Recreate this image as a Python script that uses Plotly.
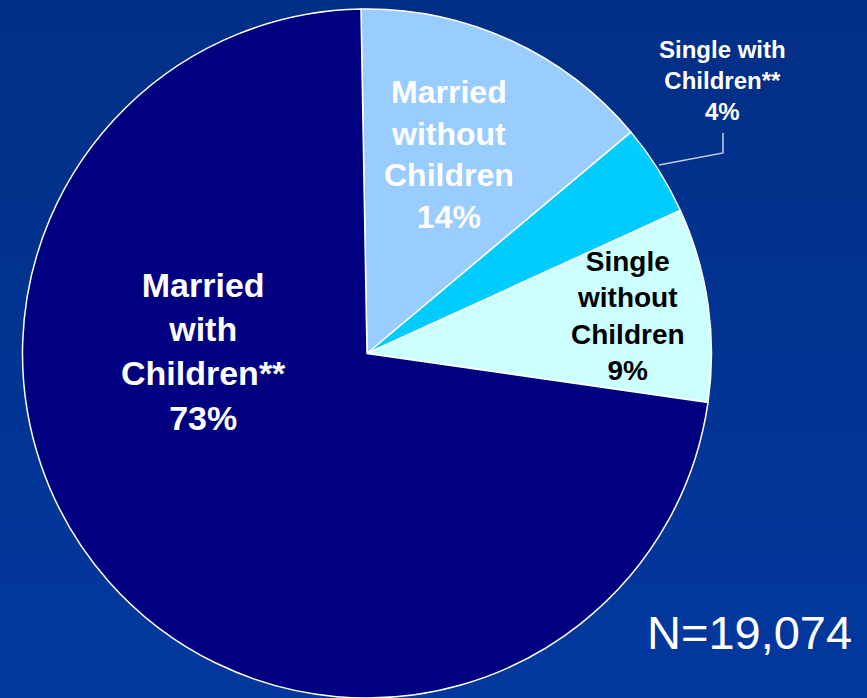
import plotly.graph_objects as go

# Data
categories = ["Married without Children", "Single with Children**",
              "Single without Children", "Married with Children**"]
display_labels = ["Married<br>without<br>Children", "Single with<br>Children**",
                  "Single<br>without<br>Children", "Married<br>with<br>Children**"]
# slice shares (printed labels are rounded)
share_values = [14.2, 4.3, 9.1, 72.6]
percent_labels = ["14%", "4%", "9%", "73%"]
sample_size = "N=19,074"

slice_colors = ["#99CCFF", "#00CCFF", "#CCFFFF", "#000080"]
text_colors = ["#FFFFFF", "#FFFFFF", "#000000", "#FFFFFF"]

W, H = 867, 698
FONT = "Liberation Sans, Arial, sans-serif"

fig = go.Figure()
fig.add_trace(go.Pie(
    labels=categories,
    values=share_values,
    sort=False,
    direction="clockwise",
    rotation=-1,
    marker=dict(colors=slice_colors, line=dict(color="#FFFFFF", width=1.5)),
    textinfo="none",
    hoverinfo="label+percent",
    showlegend=False,
    domain=dict(x=[21 / W, 713 / W], y=[0, (H - 9) / H]),
))

# Slice labels (centre position in pixels, font size)
label_layout = [
    (449, 154, 32),   # Married without Children
    (722, 80, 24),    # Single with Children**
    (628, 316, 28),   # Single without Children
    (203, 351, 34),   # Married with Children**
]
for name, pct, col, (px, py, fs) in zip(display_labels, percent_labels, text_colors, label_layout):
    fig.add_annotation(
        x=px / W, y=(H - py) / H, xref="paper", yref="paper",
        xanchor="center", yanchor="middle",
        text="<b>" + name + "<br>" + pct + "</b>",
        showarrow=False, align="center",
        font=dict(family=FONT, size=fs, color=col),
    )

# Leader line for the small slice
fig.add_shape(
    type="path", xref="paper", yref="paper",
    path="M {:.4f},{:.4f} L {:.4f},{:.4f} L {:.4f},{:.4f}".format(
        659 / W, (H - 165) / H, 723 / W, (H - 153) / H, 723 / W, (H - 133) / H),
    line=dict(color="#C8D0E8", width=1.5),
)

fig.add_annotation(
    x=749 / W, y=(H - 632) / H, xref="paper", yref="paper",
    xanchor="center", yanchor="middle",
    text=sample_size, showarrow=False,
    font=dict(family=FONT, size=47, color="#FFFFFF"),
)

# Subtle vertical background gradient
n_bands = 24
top_rgb, bot_rgb = (2, 47, 134), (2, 56, 158)
for i in range(n_bands):
    t = i / (n_bands - 1)
    r, g, b = [round(a + (c - a) * t) for a, c in zip(top_rgb, bot_rgb)]
    fig.add_shape(
        type="rect", xref="paper", yref="paper", layer="below",
        x0=0, x1=1, y0=1 - (i + 1) / n_bands, y1=1 - i / n_bands,
        fillcolor="rgb({},{},{})".format(r, g, b), line=dict(width=0),
    )

fig.update_layout(
    width=W, height=H,
    margin=dict(l=0, r=0, t=0, b=0),
    paper_bgcolor="#03359A",
    plot_bgcolor="#03359A",
    font=dict(family=FONT, color="#FFFFFF"),
)

fig.write_html("out.html", config={"displayModeBar": False},
               post_script="document.body.style.margin='0px';")
